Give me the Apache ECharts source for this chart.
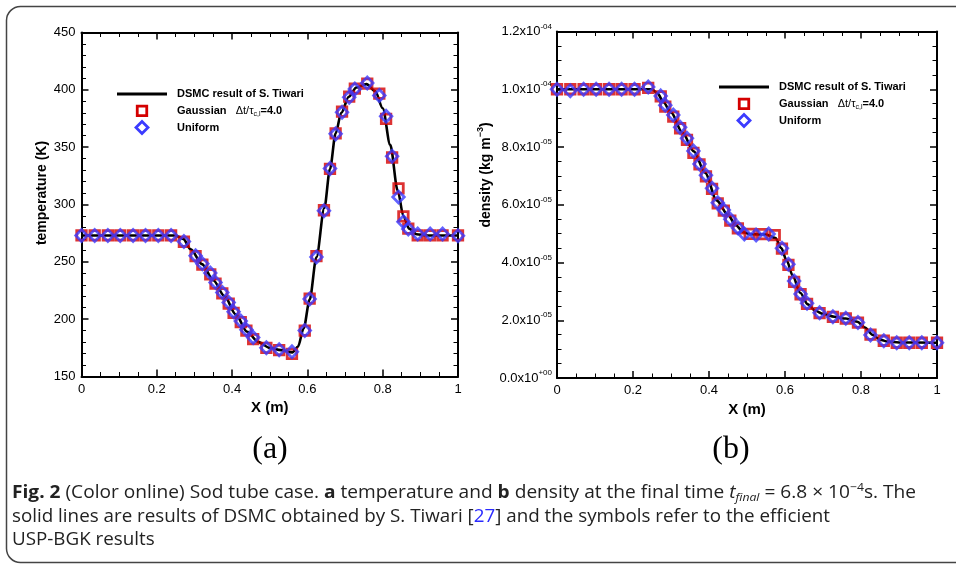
<!DOCTYPE html>
<html><head><meta charset="utf-8">
<script src="https://cdn.jsdelivr.net/npm/echarts@6/dist/echarts.min.js"></script>
<style>html,body{margin:0;padding:0;background:#fff}#c{width:956px;height:566px}</style>
</head><body><div id="c"></div>
<script>
// ---------- (a) temperature ----------
const tempLineX = [0, 0.25, 0.27, 0.29, 0.32, 0.35, 0.38, 0.41, 0.44, 0.47, 0.5, 0.53, 0.56, 0.575, 0.59, 0.606, 0.624, 0.645, 0.66, 0.675, 0.69, 0.71, 0.73, 0.757, 0.78, 0.8, 0.82, 0.84, 0.855, 0.87, 0.89, 0.92, 1.0];
const tempLine  = [273, 273, 270, 261, 248, 234, 220, 204, 189, 180, 175, 173, 171, 176, 192, 217, 254, 297, 331, 362, 380, 394, 402, 405, 399, 384, 352, 312, 290, 279, 274, 273, 273];
const tempMarkX = [0, 0.035, 0.07, 0.103, 0.137, 0.17, 0.204, 0.238, 0.272, 0.303, 0.321, 0.342, 0.356, 0.374, 0.391, 0.404, 0.423, 0.438, 0.456, 0.491, 0.525, 0.559, 0.593, 0.606, 0.624, 0.644, 0.66, 0.675, 0.692, 0.711, 0.726, 0.759, 0.791, 0.809, 0.825, 0.842, 0.855, 0.868, 0.893, 0.926, 0.959, 1.0];
const tempGauss   = [273, 273, 273, 273, 273, 273, 273, 273, 267.5, 255, 247.5, 239, 231, 222.5, 213.5, 205.5, 197.5, 190, 182.6, 175, 173, 169.8, 190, 218, 255, 295, 331, 362, 381, 394, 401, 405.5, 396.7, 374.6, 341, 314, 289.7, 279, 273, 273, 273, 273];
const tempUniform = [273, 273, 273, 273, 273, 273, 273, 273, 267.8, 255.3, 248.4, 240.2, 232, 223.3, 214.6, 206.5, 198.3, 190.8, 184, 175, 173.3, 171.5, 190.2, 217.5, 254.2, 294.6, 331.3, 361.6, 380.4, 393.5, 400.8, 406, 395, 377, 342, 306.6, 285, 278.6, 274.3, 274.3, 274.3, 272.8];

// ---------- (b) density ----------
const densLineX = [0, 0.25, 0.265, 0.28, 0.3, 0.33, 0.36, 0.39, 0.42, 0.45, 0.47, 0.49, 0.51, 0.55, 0.575, 0.59, 0.605, 0.62, 0.64, 0.66, 0.68, 0.7, 0.73, 0.76, 0.79, 0.81, 0.83, 0.85, 0.87, 0.9, 1.0];
const densLine  = [1.0e-4, 1.0e-4, 9.85e-5, 9.55e-5, 9.2e-5, 8.5e-5, 7.85e-5, 7.1e-5, 6.15e-5, 5.65e-5, 5.3e-5, 5.05e-5, 4.98e-5, 4.97e-5, 4.85e-5, 4.5e-5, 4.05e-5, 3.55e-5, 2.95e-5, 2.55e-5, 2.33e-5, 2.22e-5, 2.12e-5, 2.06e-5, 1.95e-5, 1.75e-5, 1.5e-5, 1.33e-5, 1.26e-5, 1.23e-5, 1.22e-5];
const densGaussX = [0, 0.035, 0.07, 0.103, 0.137, 0.17, 0.204, 0.24, 0.273, 0.285, 0.306, 0.324, 0.342, 0.359, 0.375, 0.392, 0.408, 0.423, 0.439, 0.456, 0.476, 0.507, 0.54, 0.573, 0.592, 0.609, 0.624, 0.641, 0.658, 0.691, 0.726, 0.76, 0.792, 0.825, 0.86, 0.894, 0.927, 0.96, 1.0];
const densGauss  = [1.0e-4, 1.0e-4, 1.0e-4, 1.0e-4, 1.0e-4, 1.0e-4, 1.0e-4, 1.005e-4, 9.75e-5, 9.4e-5, 9.05e-5, 8.65e-5, 8.25e-5, 7.8e-5, 7.4e-5, 6.98e-5, 6.55e-5, 6.05e-5, 5.8e-5, 5.45e-5, 5.18e-5, 4.99e-5, 4.98e-5, 4.95e-5, 4.48e-5, 3.92e-5, 3.33e-5, 2.9e-5, 2.57e-5, 2.25e-5, 2.12e-5, 2.06e-5, 1.92e-5, 1.5e-5, 1.29e-5, 1.22e-5, 1.22e-5, 1.22e-5, 1.22e-5];
const densUniformX = [0, 0.035, 0.07, 0.103, 0.137, 0.17, 0.204, 0.24, 0.273, 0.285, 0.306, 0.324, 0.342, 0.359, 0.375, 0.392, 0.408, 0.423, 0.439, 0.456, 0.476, 0.493, 0.524, 0.557, 0.592, 0.609, 0.624, 0.641, 0.658, 0.691, 0.726, 0.76, 0.792, 0.825, 0.86, 0.894, 0.927, 0.96, 1.0];
const densUniform  = [1.0e-4, 9.95e-5, 1.0e-4, 1.0e-4, 1.0e-4, 1.0e-4, 1.0e-4, 1.008e-4, 9.77e-5, 9.45e-5, 9.11e-5, 8.68e-5, 8.3e-5, 7.86e-5, 7.41e-5, 7.02e-5, 6.57e-5, 6.07e-5, 5.82e-5, 5.5e-5, 5.2e-5, 4.99e-5, 4.95e-5, 4.99e-5, 4.49e-5, 3.94e-5, 3.36e-5, 2.91e-5, 2.59e-5, 2.26e-5, 2.12e-5, 2.07e-5, 1.92e-5, 1.49e-5, 1.29e-5, 1.22e-5, 1.22e-5, 1.22e-5, 1.22e-5];

const seriesNames = ['DSMC result of S. Tiwari', 'Gaussian', 'Uniform'];

const FONT = 'Liberation Sans, Arial, sans-serif';
const RED = '#d40000', BLUE = '#3b3bff';
const zip = (xs, ys) => xs.map((x, i) => [x, ys[i]]);

function sci(v) {
  if (Math.abs(v) < 1e-12) return '{b|0.0x10}{s|+00}';
  const e = Math.floor(Math.log10(Math.abs(v)) + 1e-9);
  const m = v / Math.pow(10, e);
  return '{b|' + m.toFixed(1) + 'x10}{s|' + (e < 0 ? '-' : '+') + String(Math.abs(e)).padStart(2, '0') + '}';
}

function ax(extra) {
  return Object.assign({
    type: 'value',
    axisLine: { show: true, onZero: false, lineStyle: { color: '#000', width: 2 } },
    axisTick: { show: true, inside: true, length: 7, lineStyle: { color: '#000', width: 1.5 } },
    minorTick: { show: true, splitNumber: 4, length: 4.5, lineStyle: { color: '#000', width: 1 } },
    splitLine: { show: false }, minorSplitLine: { show: false },
    axisLabel: { show: false },
    silent: true
  }, extra);
}
const lbl = { show: true, color: '#000', fontFamily: FONT, fontSize: 13, margin: 6, showMinLabel: true, showMaxLabel: true };
const xName = { color: '#000', fontFamily: FONT, fontSize: 15, fontWeight: 'bold' };

const lineS = (xi, yi, xs, ys) => ({ type: 'line', name: seriesNames[0], xAxisIndex: xi, yAxisIndex: yi, data: zip(xs, ys), symbol: 'none', showSymbol: false, smooth: 0.3, smoothMonotone: 'x', lineStyle: { color: '#000', width: 2.6 }, z: 2, silent: true });
const sqS = (xi, yi, xs, ys) => ({ type: 'scatter', name: seriesNames[1], xAxisIndex: xi, yAxisIndex: yi, data: zip(xs, ys), symbol: 'rect', symbolSize: 9.5, clip: false, itemStyle: { color: 'rgba(0,0,0,0)', borderColor: RED, borderWidth: 2.8 }, z: 3, silent: true });
const dmS = (xi, yi, xs, ys) => ({ type: 'scatter', name: seriesNames[2], xAxisIndex: xi, yAxisIndex: yi, data: zip(xs, ys), symbol: 'diamond', symbolSize: [11.5, 12], clip: false, itemStyle: { color: 'rgba(0,0,0,0)', borderColor: BLUE, borderWidth: 2.8 }, z: 4, silent: true });

function legend(x0, y0) {
  const cx = x0 + 25, tx = x0 + 60, dy = 16.8;
  return [
    { type: 'line', shape: { x1: x0, y1: y0, x2: x0 + 50, y2: y0 }, style: { stroke: '#000', lineWidth: 3 } },
    { type: 'rect', shape: { x: cx - 4.75, y: y0 + dy - 4.75, width: 9.5, height: 9.5 }, style: { fill: 'none', stroke: RED, lineWidth: 2.8 } },
    { type: 'polygon', shape: { points: [[cx, y0 + 2 * dy - 6], [cx + 6, y0 + 2 * dy], [cx, y0 + 2 * dy + 6], [cx - 6, y0 + 2 * dy]] }, style: { fill: 'none', stroke: BLUE, lineWidth: 2.8 } },
    { type: 'text', x: tx, y: y0, style: { text: seriesNames[0], fontFamily: FONT, fontSize: 11, fontWeight: 'bold', fill: '#000', verticalAlign: 'middle' } },
    { type: 'text', x: tx, y: y0 + dy, style: { text: '{b|' + seriesNames[1] + '}{n|   \u0394t/\u03c4}{sub|c,l}{b|=4.0}', verticalAlign: 'middle', rich: {
        b: { fontFamily: FONT, fontSize: 11, fontWeight: 'bold', fill: '#000', lineHeight: 14 },
        n: { fontFamily: FONT, fontSize: 11, fill: '#000', lineHeight: 14 },
        sub: { fontFamily: FONT, fontSize: 7, fill: '#000', verticalAlign: 'bottom', lineHeight: 9 } } } },
    { type: 'text', x: tx, y: y0 + 2 * dy, style: { text: seriesNames[2], fontFamily: FONT, fontSize: 11, fontWeight: 'bold', fill: '#000', verticalAlign: 'middle' } }
  ];
}

// caption, condensed to the reference's line widths
const CAP = 'Open Sans, Noto Sans, sans-serif';
const CS = 18;
const capRich = {
  r: { fontFamily: CAP, fontSize: CS, fill: '#222', lineHeight: 22 },
  b: { fontFamily: CAP, fontSize: CS, fontWeight: 'bold', fill: '#222', lineHeight: 22 },
  i: { fontFamily: CAP, fontSize: CS, fontStyle: 'italic', fill: '#222', lineHeight: 22 },
  isub: { fontFamily: CAP, fontSize: 11.5, fontStyle: 'italic', fill: '#222', verticalAlign: 'bottom', lineHeight: 13 },
  sup: { fontFamily: CAP, fontSize: 11.5, fill: '#222', verticalAlign: 'top', lineHeight: 11 },
  lk: { fontFamily: CAP, fontSize: CS, fill: '#2a2aff', lineHeight: 22 }
};
const cap1 = '{b|Fig. 2}{r| (Color online) Sod tube case. }{b|a}{r| temperature and }{b|b}{r| density at the final time }{i|t}{isub|final}{r| = 6.8 \u00d7 10}{sup|\u22124}{r|s. The}';
const cap2 = '{r|solid lines are results of DSMC obtained by S. Tiwari [}{lk|27}{r|] and the symbols refer to the efficient}';
const cap3 = '{r|USP-BGK results}';
function measure(str) {
  const ctx = document.createElement('canvas').getContext('2d');
  let w = 0; const re = /\{(\w+)\|([^}]*)\}/g; let m;
  while ((m = re.exec(str))) {
    const s = capRich[m[1]];
    ctx.font = (s.fontStyle || 'normal') + ' ' + (s.fontWeight || 'normal') + ' ' + s.fontSize + 'px ' + s.fontFamily;
    w += ctx.measureText(m[2]).width;
  }
  return w;
}
const sc1 = 904 / measure(cap1);
const sc2 = 818 / measure(cap2);
const capText = (y, t, s) => ({ type: 'text', x: 12, y: y, scaleX: s, style: { text: t, verticalAlign: 'middle', rich: capRich } });

const chart = echarts.init(document.getElementById('c'), null, { renderer: 'canvas' });
chart.setOption({
  animation: false,
  backgroundColor: '#fff',
  grid: [
    { left: 81.5, top: 32.5, width: 376.5, height: 344, containLabel: false, outerBoundsMode: 'none' },
    { left: 557, top: 31.5, width: 380, height: 346.5, containLabel: false, outerBoundsMode: 'none' }
  ],
  xAxis: [
    ax({ gridIndex: 0, position: 'bottom', min: 0, max: 1, interval: 0.2, axisLabel: lbl, name: 'X (m)', nameLocation: 'middle', nameGap: 19, nameTextStyle: xName }),
    ax({ gridIndex: 0, position: 'top', min: 0, max: 1, interval: 0.2 }),
    ax({ gridIndex: 1, position: 'bottom', min: 0, max: 1, interval: 0.2, axisLabel: lbl, name: 'X (m)', nameLocation: 'middle', nameGap: 19, nameTextStyle: xName }),
    ax({ gridIndex: 1, position: 'top', min: 0, max: 1, interval: 0.2 })
  ],
  yAxis: [
    ax({ gridIndex: 0, position: 'left', min: 150, max: 450, interval: 50, minorTick: { show: true, splitNumber: 5, length: 4.5, lineStyle: { color: '#000', width: 1 } }, axisLabel: lbl }),
    ax({ gridIndex: 0, position: 'right', min: 150, max: 450, interval: 50, minorTick: { show: true, splitNumber: 5, length: 4.5, lineStyle: { color: '#000', width: 1 } } }),
    ax({ gridIndex: 1, position: 'left', min: 0, max: 1.2e-4, interval: 2e-5, axisLabel: Object.assign({}, lbl, { margin: 5, formatter: sci, rich: {
        b: { color: '#000', fontFamily: FONT, fontSize: 13, lineHeight: 18 },
        s: { color: '#000', fontFamily: FONT, fontSize: 8, verticalAlign: 'top', lineHeight: 9 } } }) }),
    ax({ gridIndex: 1, position: 'right', min: 0, max: 1.2e-4, interval: 2e-5 })
  ],
  series: [
    lineS(0, 0, tempLineX, tempLine), sqS(0, 0, tempMarkX, tempGauss), dmS(0, 0, tempMarkX, tempUniform),
    lineS(2, 2, densLineX, densLine), sqS(2, 2, densGaussX, densGauss), dmS(2, 2, densUniformX, densUniform)
  ],
  graphic: [
    { type: 'rect', silent: true, z: -10, shape: { x: 6.5, y: 6.5, width: 1000, height: 556, r: 14 }, style: { fill: 'none', stroke: '#444', lineWidth: 1.5 } },
    { type: 'text', x: 42, y: 193, rotation: Math.PI / 2, style: { text: 'temperature (K)', fontFamily: FONT, fontSize: 14, fontWeight: 'bold', fill: '#000', align: 'center', verticalAlign: 'middle' } },
    { type: 'text', x: 486, y: 175, rotation: Math.PI / 2, style: { text: '{a|density (kg m}{s|\u22123}{a|)}', align: 'center', verticalAlign: 'middle', rich: {
        a: { fontFamily: FONT, fontSize: 14, fontWeight: 'bold', fill: '#000', lineHeight: 20 },
        s: { fontFamily: FONT, fontSize: 9, fontWeight: 'bold', fill: '#000', verticalAlign: 'top', lineHeight: 10 } } } },
    ...legend(117, 94),
    ...legend(719, 87),
    { type: 'text', x: 270, y: 450, style: { text: '(a)', fontFamily: 'Liberation Serif, Times New Roman, serif', fontSize: 32, fill: '#000', align: 'center', verticalAlign: 'middle' } },
    { type: 'text', x: 731, y: 450, style: { text: '(b)', fontFamily: 'Liberation Serif, Times New Roman, serif', fontSize: 32, fill: '#000', align: 'center', verticalAlign: 'middle' } },
    capText(493, cap1, sc1), capText(517, cap2, sc2), capText(540, cap3, sc2)
  ]
});
</script></body></html>
